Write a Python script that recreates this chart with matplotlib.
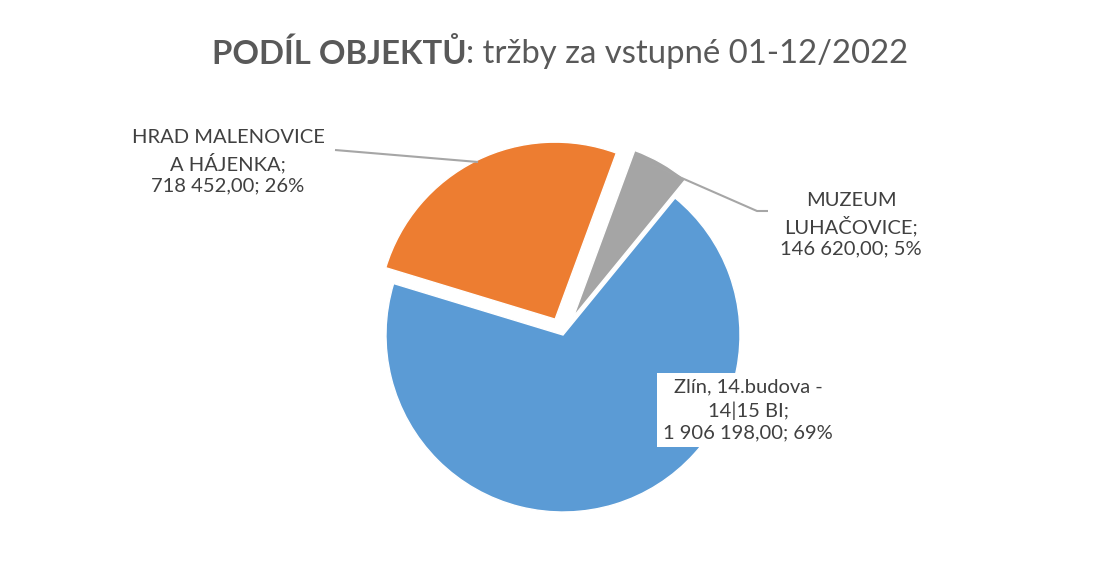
import matplotlib
matplotlib.use("Agg")
import matplotlib.pyplot as plt

plt.rcParams['font.family'] = ['Lato', 'DejaVu Sans']

categories = ["HRAD MALENOVICE\nA HÁJENKA", "MUZEUM\nLUHAČOVICE", "Zlín, 14.budova -\n14|15 BI"]
values = [718452.00, 146620.00, 1906198.00]
value_labels = ["718 452,00", "146 620,00", "1 906 198,00"]
colors = ["#ED7D31", "#A5A5A5", "#5B9BD5"]
explode = [0.10, 0.12, 0.0]

W, H = 1099, 574
fig = plt.figure(figsize=(W / 100, H / 100), dpi=100)
fig.patch.set_facecolor("white")

# pie centre and radius in pixels
cx, cy, R = 563, 335, 177
ax = fig.add_axes([0, 0, 1, 1])
wedges, _ = ax.pie(values, colors=colors, explode=explode, startangle=163.1,
                   counterclock=False, radius=1.0,
                   wedgeprops=dict(edgecolor="white", linewidth=1.0))
ax.set_xlim((0 - cx) / R, (W - cx) / R)
ax.set_ylim((cy - H) / R, cy / R)
ax.set_aspect('auto')
ax.axis('off')

def d(px, py):
    return (px - cx) / R, (cy - py) / R

total = sum(values)
texts = [f"{c};\n{v}; {round(val / total * 100)}%" for c, v, val in zip(categories, value_labels, values)]

label_color = "#404040"
fs = 14.5
ls = 1.35
# HRAD label
x, y = d(228, 162)
ax.text(x, y, texts[0], ha="center", va="center", fontsize=fs, color=label_color, linespacing=ls)
# MUZEUM label
x, y = d(851, 225)
ax.text(x, y, texts[1], ha="center", va="center", fontsize=fs, color=label_color, linespacing=ls)
# Zlin label (with white box)
x, y = d(748, 410)
ax.text(x, y, texts[2], ha="center", va="center", fontsize=fs, color=label_color, linespacing=ls,
        bbox=dict(boxstyle="square,pad=0.3", facecolor="white", edgecolor="none"))

# leader lines
lc = "#A6A6A6"
p = [d(335, 150), d(478, 162)]
ax.plot([p[0][0], p[1][0]], [p[0][1], p[1][1]], color=lc, lw=1.5, solid_capstyle="butt")
p = [d(652, 165), d(757, 211), d(768, 211)]
ax.plot([q[0] for q in p], [q[1] for q in p], color=lc, lw=1.5, solid_capstyle="butt")

# title: bold part + regular part, centred
title_color = "#595959"
t1 = fig.text(0, 1 - 54 / H, "PODÍL OBJEKTŮ", fontsize=23.7, fontweight="bold", color=title_color,
              ha="left", va="center")
t2 = fig.text(0, 1 - 54 / H, ": tržby za vstupné 01-12/2022", fontsize=23.7, color=title_color,
              ha="left", va="center")
fig.canvas.draw()
r = fig.canvas.get_renderer()
w1 = t1.get_window_extent(r).width
w2 = t2.get_window_extent(r).width
left = 560 - (w1 + w2) / 2
t1.set_x(left / W)
t2.set_x((left + w1) / W)

fig.savefig("out.png", dpi=100, facecolor="white")
